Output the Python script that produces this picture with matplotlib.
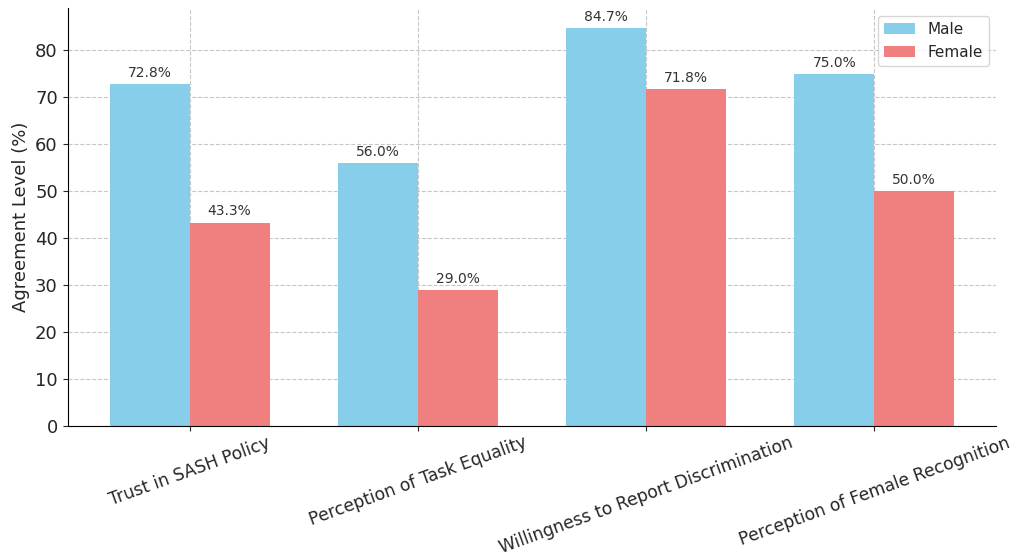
import numpy as np
import matplotlib.pyplot as plt

categories = ["Trust in SASH Policy", "Perception of Task Equality",
              "Willingness to Report Discrimination", "Perception of Female Recognition"]
male = [72.8, 56.0, 84.7, 75.0]
female = [43.3, 29.0, 71.8, 50.0]

plt.rcParams["text.color"] = "#262626"
plt.rcParams["xtick.color"] = "#262626"
plt.rcParams["ytick.color"] = "#262626"
plt.rcParams["axes.labelcolor"] = "#262626"

x = np.arange(len(categories))
width = 0.35

fig, ax = plt.subplots(figsize=(10.24, 5.56), dpi=100)
b1 = ax.bar(x - width/2, male, width, label="Male", color="skyblue")
b2 = ax.bar(x + width/2, female, width, label="Female", color="lightcoral")

for bars in (b1, b2):
    for bar in bars:
        h = bar.get_height()
        ax.annotate(f"{h:.1f}%", xy=(bar.get_x() + bar.get_width()/2, h),
                    xytext=(0, 3), textcoords="offset points",
                    ha="center", va="bottom", fontsize=10, color="#333333")

ax.set_ylabel("Agreement Level (%)", fontsize=13)
ax.set_xticks(x)
ax.set_xticklabels(categories, rotation=20, fontsize=12.3)
ax.tick_params(axis="y", labelsize=13)
ax.tick_params(axis="x", pad=2)
ax.grid(True, linestyle="--", alpha=0.7)
ax.set_axisbelow(True)
ax.spines["top"].set_visible(False)
ax.spines["right"].set_visible(False)
ax.legend(fontsize=11)

plt.subplots_adjust(left=0.066, right=0.973, top=0.985, bottom=0.234)
plt.savefig("out.png")
